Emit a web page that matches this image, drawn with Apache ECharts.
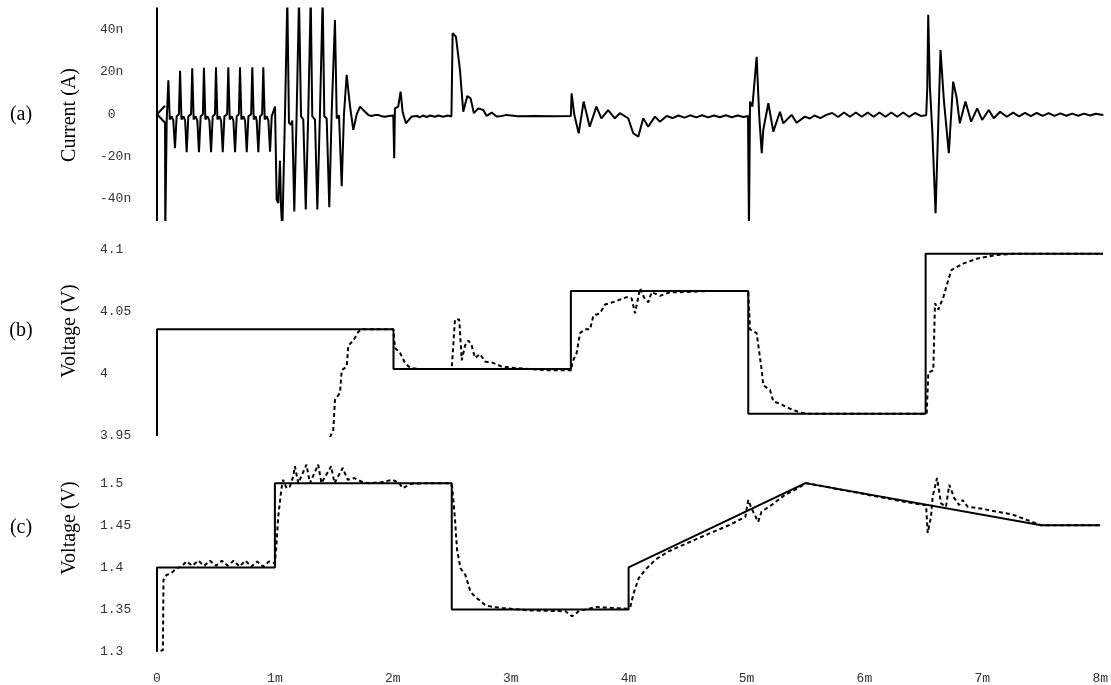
<!DOCTYPE html>
<html>
<head>
<meta charset="utf-8">
<script src="https://cdn.jsdelivr.net/npm/echarts@6/dist/echarts.min.js"></script>
<style>
  html, body { margin: 0; padding: 0; background: #fff; }
  #chart { width: 1111px; height: 685px; }
</style>
</head>
<body>
<div id="chart"></div>
<script>
// time axis in ms ("m"), current in nA ("n")
const xTicks = [0, 1, 2, 3, 4, 5, 6, 7, 8];
const panelNames = ['(a)', '(b)', '(c)'];
const axisTitles = ['Current (A)', 'Voltage (V)', 'Voltage (V)'];

// (a) measured current
const currentA = [
  [0, 55], [0, -55], [0, 0], [0.068, 4], [0, 0], [0.068, -4], [0.07, -55], [0.082, -3],
  [0.096, 16], [0.108, -2.5], [0.125, -1], [0.138, -3], [0.152, -16], [0.166, -1], [0.185, 0],
  [0.195, 20.5], [0.207, -2.5], [0.224, -1], [0.238, -3], [0.251, -18], [0.265, -1], [0.288, 0],
  [0.298, 21.7], [0.31, -2.5], [0.327, -1], [0.341, -3], [0.355, -18], [0.369, -1], [0.388, 0],
  [0.397, 22], [0.409, -2.5], [0.427, -1], [0.443, -3], [0.457, -18], [0.471, -1], [0.49, 0],
  [0.499, 22.2], [0.511, -2.5], [0.528, -1], [0.542, -3], [0.556, -18], [0.57, -1], [0.593, 0],
  [0.603, 22.2], [0.615, -2.5], [0.632, -1], [0.646, -3], [0.66, -18], [0.674, -1], [0.692, 0],
  [0.702, 22.2], [0.714, -2.5], [0.731, -1], [0.745, -3], [0.759, -18], [0.773, -1], [0.796, 0],
  [0.806, 22.2], [0.818, -2.5], [0.834, -1], [0.843, -3], [0.857, -18], [0.871, -1], [0.889, 0],
  [0.899, 22.2], [0.911, -2.5], [0.928, -1], [0.942, -3], [0.956, -17.7], [0.97, -1], [0.985, -0.5],
  [0.998, 3.6], [1.012, -40.5], [1.026, -42], [1.04, -22], [1.049, -44], [1.06, -55], [1.082, -1],
  [1.102, 55], [1.116, -4], [1.133, -5], [1.144, -3], [1.161, -46], [1.181, 0.5],
  [1.201, 55], [1.218, -1], [1.237, -2.5], [1.258, -45], [1.279, 0],
  [1.3, 55], [1.313, -1], [1.336, -2.5], [1.356, -45], [1.378, 0.5],
  [1.401, 55], [1.415, -1], [1.435, -2], [1.457, -44], [1.477, 0.5],
  [1.505, 44.6], [1.52, -2], [1.539, -0.5], [1.562, -34], [1.581, 0],
  [1.604, 18.6], [1.632, 4], [1.66, -7.4], [1.689, 0], [1.717, 3.6], [1.759, 1.2], [1.79, -0.5],
  [1.816, -0.8], [1.85, -0.3], [1.871, -0.3], [1.9, -1], [1.928, -1.2], [1.96, -0.8], [1.998, -0.6],
  [2.006, -20.8], [2.012, 2.8], [2.04, 3.6], [2.06, 10.7], [2.077, 1.2], [2.105, -4.3], [2.153, -1.1],
  [2.2, -0.8], [2.22, -1.5], [2.25, -0.6], [2.28, -1.3], [2.31, -0.6], [2.35, -1.2], [2.38, -0.6],
  [2.42, -1.2], [2.46, -0.6], [2.49, -1.1], [2.5, 38.3], [2.528, 36.7], [2.562, 21], [2.59, 1.2],
  [2.624, 8.6], [2.652, 7.5], [2.68, 0.5], [2.717, 2.8], [2.759, 2], [2.788, -0.8], [2.83, 0.8],
  [2.872, -1.1], [2.9, -1], [2.957, -0.3], [3.05, -0.9], [3.2, -0.8], [3.35, -0.9], [3.5, -0.8],
  [3.506, 9.9], [3.53, -0.5], [3.566, -9], [3.608, 6], [3.659, -5.9], [3.716, 3.6], [3.758, -1.9],
  [3.815, 2], [3.872, -1.9], [3.914, 0.5], [3.985, -1.9], [4.027, -9], [4.07, -10.6], [4.112, -1.9],
  [4.154, -5.9], [4.211, -1.1], [4.253, -3.5], [4.31, -0.8], [4.36, -1.8], [4.41, -0.6], [4.46, -1.6],
  [4.51, -0.5], [4.56, -1.5], [4.61, -0.5], [4.66, -1.5], [4.71, -0.6], [4.76, -1.4], [4.81, -0.5],
  [4.86, -1.4], [4.91, -0.6], [4.96, -1.3], [4.998, -0.8],
  [5.006, -55], [5.015, 6], [5.035, 3.6], [5.071, 27.2], [5.093, -1.1], [5.114, -18.4], [5.127, -7.4],
  [5.17, 5.2], [5.212, -8.2], [5.268, 1.2], [5.296, -4.3], [5.367, -0.3], [5.409, -4], [5.479, -1.1],
  [5.52, -2], [5.56, -0.6], [5.61, -1.8], [5.66, -0.3], [5.71, 0.6], [5.76, -1.3], [5.81, 0.8],
  [5.86, -1.2], [5.91, 0.8], [5.96, -1.2], [6.01, 0.8], [6.06, -1.2], [6.11, 0.8], [6.16, -1.2],
  [6.21, 0.8], [6.26, -1.2], [6.31, 0.8], [6.36, -1.2], [6.41, 0.6], [6.46, -0.8], [6.505, -0.5],
  [6.514, 13], [6.522, 47], [6.536, 13], [6.556, -7.4], [6.584, -46.8], [6.626, 30.4], [6.654, 6.8],
  [6.696, -18.4], [6.733, 15.4], [6.761, 8.3], [6.789, -4.3], [6.837, 6], [6.885, -3.5], [6.936, 2.8],
  [6.978, -2.7], [7.034, 2], [7.076, -1.9], [7.13, 1.2], [7.186, -1.2], [7.24, 0.8], [7.29, -1],
  [7.34, 0.6], [7.39, -0.9], [7.44, 0.6], [7.49, -0.8], [7.54, 0.5], [7.59, -0.8], [7.64, 0.4],
  [7.69, -0.7], [7.74, 0.3], [7.79, -0.7], [7.84, 0.3], [7.89, -0.6], [7.94, 0.2], [8, -0.4]
];

// (b) reference (solid) and tracked (dotted) voltage
const voltBSolid = [
  [0, 3.95], [0, 4.036], [2, 4.036], [2, 4.004], [3.5, 4.004], [3.5, 4.067],
  [5, 4.067], [5, 3.968], [6.5, 3.968], [6.5, 4.097], [8, 4.097]
];
const voltBDotted = [
  [1.463, 3.949], [1.491, 3.955], [1.505, 3.979], [1.548, 3.985], [1.562, 4.003], [1.604, 4.006],
  [1.618, 4.023], [1.66, 4.027], [1.702, 4.034], [1.731, 4.036], [1.998, 4.036], [2.013, 4.021],
  [2.055, 4.017], [2.097, 4.009], [2.14, 4.005], [2.207, 4.004], [2.492, 4.004], [2.52, 4.044],
  [2.556, 4.044], [2.577, 4.011], [2.605, 4.023], [2.633, 4.027], [2.661, 4.023], [2.689, 4.013],
  [2.732, 4.016], [2.774, 4.01], [2.841, 4.009], [2.915, 4.006], [3.013, 4.005], [3.154, 4.004],
  [3.3, 4.003], [3.507, 4.003], [3.51, 4.009], [3.549, 4.017], [3.577, 4.033], [3.619, 4.036],
  [3.662, 4.036], [3.69, 4.047], [3.746, 4.049], [3.789, 4.056], [3.859, 4.058], [3.972, 4.062],
  [4.014, 4.061], [4.042, 4.049], [4.085, 4.069], [4.127, 4.06], [4.155, 4.058], [4.183, 4.066],
  [4.254, 4.063], [4.338, 4.066], [4.423, 4.066], [4.7, 4.067], [5, 4.067], [5.015, 4.036],
  [5.071, 4.033], [5.114, 4.003], [5.127, 3.991], [5.184, 3.987], [5.212, 3.978], [5.268, 3.976],
  [5.353, 3.972], [5.438, 3.969], [5.494, 3.968], [6.509, 3.968], [6.523, 4.001], [6.565, 4.003],
  [6.579, 4.057], [6.607, 4.052], [6.65, 4.062], [6.692, 4.076], [6.72, 4.084], [6.818, 4.089],
  [6.932, 4.093], [7.101, 4.096], [7.239, 4.097], [8, 4.097]
];

// (c) reference (solid) and tracked (dotted) voltage
const voltCSolid = [
  [0, 1.3], [0, 1.4], [1, 1.4], [1, 1.5], [2.5, 1.5], [2.5, 1.35], [4, 1.35],
  [4, 1.4], [5.5, 1.5], [7.5, 1.45], [8, 1.45]
];
const voltCDotted = [
  [0.03, 1.301], [0.05, 1.302], [0.055, 1.385], [0.08, 1.391], [0.12, 1.393], [0.165, 1.399],
  [0.207, 1.401], [0.25, 1.407], [0.3, 1.402], [0.35, 1.408], [0.4, 1.402], [0.45, 1.408],
  [0.5, 1.402], [0.55, 1.408], [0.6, 1.402], [0.65, 1.408], [0.7, 1.401], [0.75, 1.408],
  [0.8, 1.401], [0.85, 1.407], [0.9, 1.401], [0.95, 1.407], [1.0, 1.405], [1.014, 1.429],
  [1.028, 1.46], [1.056, 1.494], [1.07, 1.504], [1.099, 1.494], [1.127, 1.496], [1.155, 1.508],
  [1.17, 1.52], [1.198, 1.5], [1.268, 1.522], [1.297, 1.5], [1.367, 1.522], [1.395, 1.5],
  [1.477, 1.52], [1.505, 1.5], [1.575, 1.518], [1.618, 1.504], [1.674, 1.506], [1.745, 1.501],
  [1.8, 1.5], [1.9, 1.501], [1.998, 1.504], [2.055, 1.5], [2.083, 1.494], [2.15, 1.499],
  [2.3, 1.5], [2.48, 1.5], [2.503, 1.496], [2.526, 1.46], [2.545, 1.421], [2.574, 1.399],
  [2.616, 1.391], [2.659, 1.371], [2.701, 1.365], [2.786, 1.355], [2.856, 1.353], [2.926, 1.352],
  [3.154, 1.349], [3.465, 1.348], [3.521, 1.342], [3.577, 1.348], [3.718, 1.353], [3.859, 1.352],
  [3.986, 1.351], [4.014, 1.353], [4.042, 1.369], [4.085, 1.387], [4.141, 1.397], [4.226, 1.409],
  [4.338, 1.419], [4.564, 1.433], [4.85, 1.45], [4.99, 1.46], [5.015, 1.48], [5.043, 1.47],
  [5.099, 1.454], [5.127, 1.466], [5.212, 1.474], [5.325, 1.486], [5.41, 1.492], [5.508, 1.5],
  [6.0, 1.487], [6.3, 1.479], [6.5, 1.474], [6.523, 1.474], [6.537, 1.441], [6.565, 1.46],
  [6.579, 1.484], [6.616, 1.506], [6.65, 1.476], [6.692, 1.472], [6.72, 1.498], [6.763, 1.482],
  [6.805, 1.474], [6.833, 1.48], [6.875, 1.472], [7.0, 1.4695], [7.25, 1.463], [7.5, 1.45],
  [8, 1.45]
];

const chart = echarts.init(document.getElementById('chart'), null, { renderer: 'canvas' });

const tickFont = { fontFamily: '"Liberation Mono", monospace', fontSize: 13, color: '#333' };
const serif = '"Liberation Serif", "Times New Roman", serif';

const grids = [
  { left: 157, right: 8, top: 8.5, height: 211.5 },
  { left: 157, right: 8, top: 250, height: 186 },
  { left: 157, right: 8, top: 441, height: 210.7 }
];

const xAxisBase = (i) => ({
  type: 'value',
  gridIndex: i,
  min: xTicks[0],
  max: xTicks[xTicks.length - 1],
  interval: 1,
  axisLine: { show: false },
  axisTick: { show: false },
  splitLine: { show: false },
  axisLabel: { show: false }
});

const xAxes = [xAxisBase(0), xAxisBase(1), xAxisBase(2)];
// tiny tick dots along the top edge
xAxes[0].position = 'top';
xAxes[0].axisTick = { show: true, inside: true, length: 2, lineStyle: { color: '#aaa', width: 1 } };
// time labels under the last panel
xAxes[2].axisLabel = Object.assign({
  show: true,
  margin: 20,
  formatter: (v) => (v === 0 ? '0' : v + 'm')
}, tickFont);

const yAxisBase = (i, min, max, interval, formatter) => ({
  type: 'value',
  gridIndex: i,
  min: min,
  max: max,
  interval: interval,
  axisLine: { show: false },
  axisTick: { show: false },
  splitLine: { show: false },
  axisLabel: Object.assign({
    align: 'left',
    margin: 57,
    formatter: formatter
  }, tickFont)
});

const yAxes = [
  yAxisBase(0, -50, 50, 10, (v) => {
    if (v % 20 !== 0) return '';
    return v === 0 ? ' 0' : v + 'n';
  }),
  yAxisBase(1, 3.95, 4.1, 0.05),
  yAxisBase(2, 1.3, 1.55, 0.05)
];
yAxes[2].axisLabel.showMaxLabel = false;

const lineSeries = (i, data, dashed) => ({
  type: 'line',
  xAxisIndex: i,
  yAxisIndex: i,
  data: data,
  showSymbol: false,
  clip: true,
  lineStyle: {
    color: '#000',
    width: 2,
    type: dashed ? [4, 3] : 'solid'
  }
});

const titleTexts = [];
const titleY = [115, 331, 528];
for (let i = 0; i < 3; i++) {
  titleTexts.push({
    type: 'text',
    x: 21,
    y: titleY[i],
    style: {
      text: panelNames[i],
      font: '20px ' + serif,
      fill: '#000',
      align: 'center',
      verticalAlign: 'middle'
    }
  });
  titleTexts.push({
    type: 'text',
    x: 70,
    y: titleY[i],
    rotation: Math.PI / 2,
    style: {
      text: axisTitles[i],
      font: '20px ' + serif,
      fill: '#000',
      align: 'center',
      verticalAlign: 'middle'
    }
  });
}

chart.setOption({
  animation: false,
  backgroundColor: '#fff',
  grid: grids,
  xAxis: xAxes,
  yAxis: yAxes,
  graphic: titleTexts,
  series: [
    lineSeries(0, currentA, false),
    lineSeries(1, voltBSolid, false),
    lineSeries(1, voltBDotted, true),
    lineSeries(2, voltCSolid, false),
    lineSeries(2, voltCDotted, true)
  ]
});
</script>
</body>
</html>
